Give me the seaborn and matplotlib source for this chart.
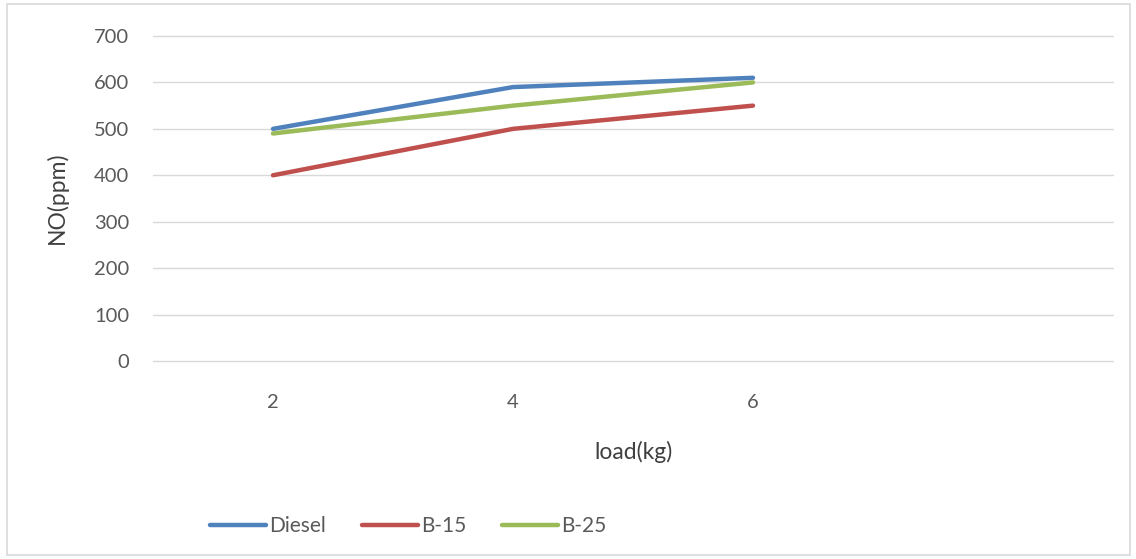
import matplotlib
matplotlib.use("Agg")
import matplotlib.pyplot as plt
import matplotlib.patches as mpatches
import seaborn as sns
import pandas as pd

loads = ["2", "4", "6"]
diesel = [500, 590, 610]
b15 = [400, 500, 550]
b25 = [490, 550, 600]
series_names = ["Diesel", "B-15", "B-25"]
colors = ["#4F81BD", "#C0504D", "#9BBB59"]
yticks = [0, 100, 200, 300, 400, 500, 600, 700]

rows = []
for name, vals in zip(series_names, [diesel, b15, b25]):
    for x, v in zip(loads, vals):
        rows.append({"load": x, "NO": v, "series": name})
df = pd.DataFrame(rows)

sns.set_style("white")
plt.rcParams["font.family"] = ["Lato", "DejaVu Sans"]
txt = "#595959"

fig = plt.figure(figsize=(11.36, 5.59), dpi=100)
ax = fig.add_axes([153/1136, 1 - 361/559, 960/1136, 325/559])

sns.lineplot(data=df, x="load", y="NO", hue="series", palette=colors,
             hue_order=series_names, linewidth=3.2, ax=ax, legend=False,
             solid_capstyle="round")

ax.set_xlim(-0.5, 3.5)
ax.set_ylim(0, 700)
ax.set_yticks(yticks)
ax.set_yticklabels([str(v) for v in yticks], fontsize=14.5, color=txt)
ax.set_xticks(range(len(loads)))
ax.set_xticklabels(loads, fontsize=14.5, color=txt)
ax.tick_params(axis="both", length=0)
ax.tick_params(axis="y", pad=17)
ax.tick_params(axis="x", pad=24)
ax.grid(axis="y", color="#D9D9D9", linewidth=1)
for gl in ax.get_ygridlines():
    gl.set_clip_on(False)
ax.set_axisbelow(True)
for s in ax.spines.values():
    s.set_visible(False)

ax.set_xlabel("load(kg)", fontsize=16.5, color="#404040")
ax.set_ylabel("NO(ppm)", fontsize=16.5, color="#404040")
ax.xaxis.set_label_coords((634 - 153) / 960, (361 - 441) / 325)
ax.yaxis.set_label_coords((68 - 153) / 960, (361 - 198) / 325)

handles = [plt.Line2D([0], [0], color=c, linewidth=3.2, solid_capstyle="round")
           for c in colors]
fig.legend(handles, series_names, loc="center left",
           bbox_to_anchor=(210/1136, 1 - 526/559), ncol=3, frameon=False,
           borderpad=0, borderaxespad=0,
           fontsize=15, labelcolor=txt, handlelength=2.7, handletextpad=0.15,
           columnspacing=1.7)

border = mpatches.Rectangle((7/1136, 4/559), 1123/1136, 551/559,
                            transform=fig.transFigure, fill=False,
                            edgecolor="#D9D9D9", linewidth=1.2)
fig.patches.append(border)

fig.savefig("out.png", dpi=100)
